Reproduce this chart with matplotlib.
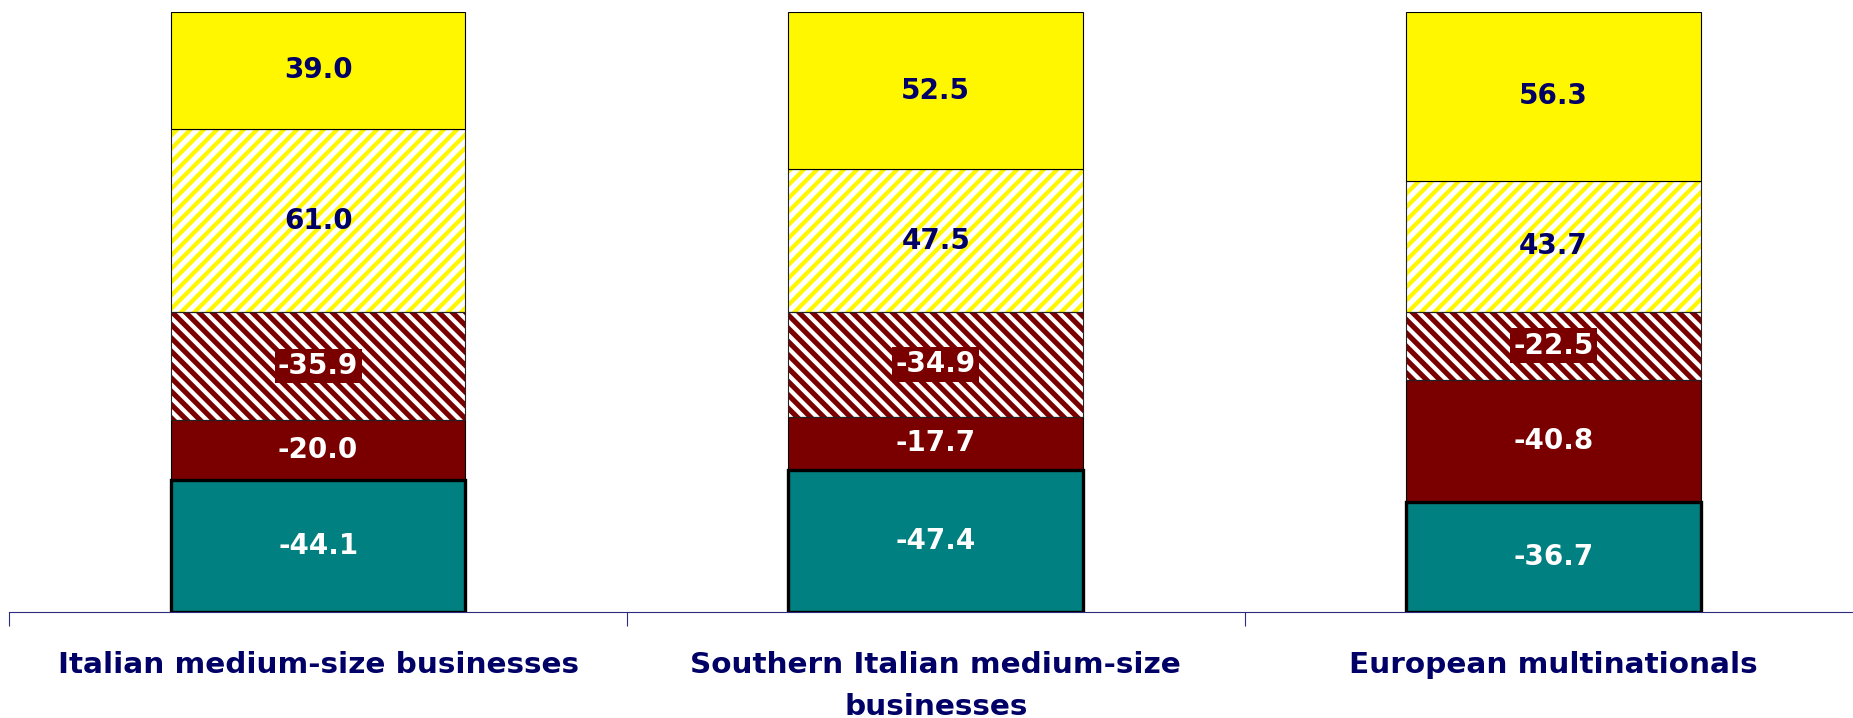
import numpy as np
import matplotlib
matplotlib.use("Agg")
import matplotlib.pyplot as plt

# Data (segments from the bottom up).
Categories = ["Italian medium-size businesses", "Southern Italian medium-size\nbusinesses", "European multinationals"]
Teal = [-44.1, -47.4, -36.7]
DarkRed = [-20.0, -17.7, -40.8]
DarkRedHatched = [-35.9, -34.9, -22.5]
YellowHatched = [61.0, 47.5, 43.7]
Yellow = [39.0, 52.5, 56.3]

# Colours.
TealColour = "#008080"
RedColour = "#7A0000"
YellowColour = "#FFF700"
Navy = "#000066"

plt.rcParams["font.family"] = ["DejaVu Sans"]
plt.rcParams["hatch.linewidth"] = 3.8

Dpi = 80
Fig = plt.figure(figsize=(1853 / Dpi, 718 / Dpi), dpi=Dpi)
Ax = Fig.add_axes([0.005, 0.1476, 1.0, 0.8357])

X = np.arange(len(Categories))
Width = 0.477
Bottom = np.zeros(len(Categories))

# (values, face colour, hatch, hatch colour, text colour, boxed label, edge width)
Segments = [
	(Teal, TealColour, None, None, "white", False, 3.0),
	(DarkRed, RedColour, None, None, "white", False, 1.0),
	(DarkRedHatched, RedColour, "\\\\", "white", "white", True, 1.0),
	(YellowHatched, "white", "//", YellowColour, Navy, False, 1.0),
	(Yellow, YellowColour, None, None, Navy, False, 1.0),
]

for Values, Face, Hatch, HatchColour, TextColour, Boxed, EdgeWidth in Segments:
	Heights = np.abs(np.array(Values))
	if Hatch is not None:
		# Hatch colour follows the edge colour, so draw fill+hatch first, then the outline.
		Ax.bar(X, Heights, Width, bottom=Bottom, color=Face, hatch=Hatch, edgecolor=HatchColour, linewidth=0, zorder=2)
		Ax.bar(X, Heights, Width, bottom=Bottom, fill=False, edgecolor="#222222", linewidth=EdgeWidth, zorder=3)
	else:
		Ax.bar(X, Heights, Width, bottom=Bottom, color=Face, edgecolor="black", linewidth=EdgeWidth, zorder=4 if EdgeWidth > 1 else 3)
	for i in range(len(X)):
		Box = dict(facecolor=RedColour, edgecolor="none", pad=3) if Boxed else None
		Ax.text(X[i], Bottom[i] + Heights[i] / 2, "%.1f" % Values[i], ha="center", va="center",
			color=TextColour, fontsize=25, fontweight="bold", bbox=Box, zorder=5)
	Bottom = Bottom + Heights

# Axis styling.
Ax.set_xlim(-0.5, len(Categories) - 0.5)
Ax.set_ylim(0, 200)
Ax.set_yticks([])
for Side in ["left", "right", "top"]:
	Ax.spines[Side].set_visible(False)
Ax.spines["bottom"].set_color("#2B2B80")
Ax.spines["bottom"].set_linewidth(1.0)

Ax.set_xticks(X)
Ax.set_xticklabels(Categories, fontsize=26.5, fontweight="bold", color=Navy, linespacing=1.65)
Ax.tick_params(axis="x", which="major", length=0, pad=35)
Ax.set_xticks(np.arange(len(Categories) + 1) - 0.5, minor=True)
Ax.tick_params(axis="x", which="minor", length=13, width=1.0, color="#2B2B80", direction="out")

Fig.savefig("out.png", dpi=Dpi)
